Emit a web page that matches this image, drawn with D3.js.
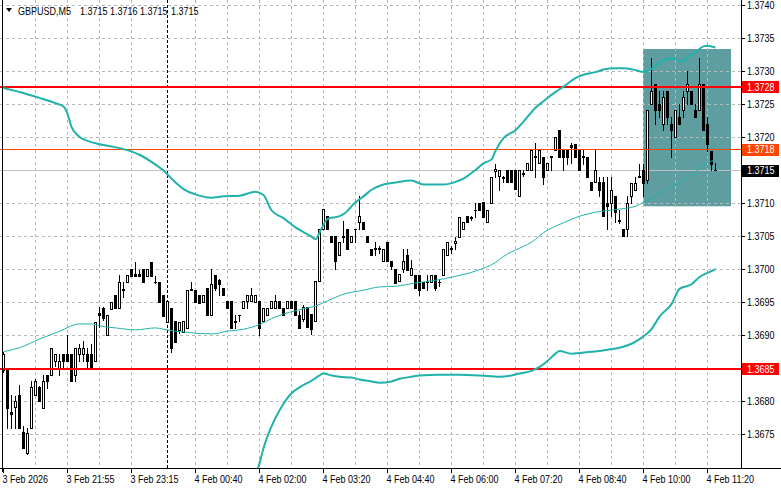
<!DOCTYPE html>
<html><head><meta charset="utf-8">
<script src="https://cdn.jsdelivr.net/npm/d3@7"></script>
<style>
body{margin:0;background:#fff}
svg{display:block}
text{font-family:"Liberation Sans",Arial,sans-serif}
</style>
</head><body>
<svg id="c" width="781" height="489"></svg>
<script>
// ---------- DATA ----------
const symbolTitle = "GBPUSD,M5";
const headerValues = ["1.3715", "1.3716", "1.3715", "1.3715"];

const opens = [
1.36848,1.36848,1.36783,1.36791,1.36810,1.36753,1.36721,1.36760,1.36810,1.36821,
1.36790,1.36840,1.36840,1.36861,1.36850,1.36871,1.36871,1.36871,1.36840,1.36871,
1.36871,1.36871,1.36871,1.36861,1.36933,1.36941,1.36901,1.36939,1.36961,1.36941,
1.36970,1.36980,1.37000,1.36992,1.36992,1.37000,1.36990,1.37010,1.36981,1.36980,
1.36961,1.36920,1.36941,1.36921,1.36908,1.36905,1.36911,1.36970,1.36969,1.36961,
1.36950,1.36971,1.36930,1.36991,1.36983,1.36971,1.36951,1.36951,1.36922,1.36931,
1.36941,1.36951,1.36951,1.36950,1.36951,1.36921,1.36931,1.36941,1.36941,1.36951,
1.36941,1.36941,1.36951,1.36951,1.36931,1.36925,1.36942,1.36932,1.36922,1.36982,
1.37061,1.37081,1.37050,1.37050,1.37022,1.37048,1.37061,1.37041,1.37060,1.37071,
1.37071,1.37050,1.37031,1.37032,1.37032,1.37012,1.37041,1.37012,1.37000,1.36982,
1.37000,1.37021,1.36991,1.36991,1.36991,1.36981,1.36982,1.36981,1.36991,1.36980,
1.36991,1.37021,1.37032,1.37040,1.37048,1.37061,1.37080,1.37078,1.37089,1.37100,
1.37101,1.37071,1.37100,1.37148,1.37141,1.37138,1.37150,1.37150,1.37150,1.37110,
1.37145,1.37150,1.37150,1.37171,1.37160,1.37170,1.37150,1.37171,1.37180,1.37210,
1.37180,1.37180,1.37187,1.37189,1.37180,1.37171,1.37170,1.37131,1.37131,1.37131,
1.37131,1.37100,1.37100,1.37110,1.37074,1.37060,1.37060,1.37110,1.37120,1.37141,
1.37150,1.37135,1.37250,1.37280,1.37250,1.37220,1.37270,1.37220,1.37200,1.37230,
1.37240,1.37270,1.37270,1.37240,1.37240,1.37280,1.37220,1.37179,1.37150];

const highs = [
1.36875,1.36850,1.36810,1.36808,1.36825,1.36763,1.36760,1.36830,1.36833,1.36823,
1.36840,1.36840,1.36881,1.36871,1.36871,1.36871,1.36901,1.36871,1.36881,1.36886,
1.36891,1.36881,1.36886,1.36920,1.36943,1.36943,1.36931,1.36950,1.36961,1.36991,
1.36980,1.36991,1.37000,1.37011,1.36998,1.37000,1.37000,1.37010,1.36990,1.36980,
1.36961,1.36951,1.36941,1.36921,1.36920,1.36921,1.36969,1.36980,1.36969,1.36961,
1.36961,1.36971,1.37000,1.36991,1.36985,1.36971,1.36951,1.36951,1.36931,1.36931,
1.36951,1.36961,1.36971,1.36961,1.36951,1.36941,1.36941,1.36951,1.36961,1.36951,
1.36941,1.36951,1.36951,1.36951,1.36937,1.36945,1.36942,1.36932,1.36982,1.37061,
1.37091,1.37081,1.37050,1.37050,1.37041,1.37072,1.37061,1.37050,1.37061,1.37110,
1.37071,1.37050,1.37031,1.37041,1.37035,1.37031,1.37041,1.37012,1.37000,1.36992,
1.37030,1.37031,1.37013,1.36991,1.36991,1.36981,1.36991,1.36991,1.36991,1.36985,
1.37031,1.37041,1.37035,1.37048,1.37079,1.37071,1.37080,1.37080,1.37100,1.37100,
1.37101,1.37090,1.37139,1.37159,1.37150,1.37141,1.37150,1.37150,1.37150,1.37150,
1.37150,1.37160,1.37180,1.37190,1.37180,1.37170,1.37160,1.37171,1.37200,1.37210,
1.37180,1.37180,1.37190,1.37189,1.37180,1.37180,1.37170,1.37131,1.37180,1.37139,
1.37139,1.37139,1.37139,1.37110,1.37089,1.37060,1.37110,1.37130,1.37140,1.37159,
1.37159,1.37240,1.37320,1.37280,1.37270,1.37270,1.37270,1.37230,1.37240,1.37250,
1.37270,1.37300,1.37270,1.37250,1.37320,1.37280,1.37230,1.37179,1.37160];

const lows = [
1.36845,1.36760,1.36760,1.36760,1.36760,1.36730,1.36720,1.36760,1.36810,1.36800,
1.36790,1.36820,1.36840,1.36853,1.36840,1.36850,1.36861,1.36830,1.36830,1.36861,
1.36861,1.36850,1.36850,1.36861,1.36913,1.36923,1.36901,1.36939,1.36941,1.36941,
1.36958,1.36980,1.36990,1.36990,1.36990,1.36980,1.36990,1.36990,1.36979,1.36950,
1.36929,1.36920,1.36875,1.36889,1.36903,1.36905,1.36911,1.36968,1.36950,1.36949,
1.36950,1.36930,1.36930,1.36968,1.36961,1.36961,1.36941,1.36911,1.36911,1.36921,
1.36941,1.36941,1.36951,1.36950,1.36901,1.36921,1.36931,1.36941,1.36941,1.36941,
1.36931,1.36941,1.36941,1.36931,1.36911,1.36921,1.36912,1.36902,1.36922,1.36982,
1.37061,1.37061,1.37041,1.37000,1.37022,1.37041,1.37031,1.37041,1.37041,1.37061,
1.37061,1.37041,1.37022,1.37022,1.37025,1.37012,1.37012,1.37000,1.36979,1.36982,
1.36996,1.36998,1.36991,1.36971,1.36961,1.36971,1.36968,1.36981,1.36968,1.36975,
1.36991,1.37021,1.37025,1.37031,1.37048,1.37061,1.37071,1.37075,1.37079,1.37089,
1.37079,1.37071,1.37100,1.37139,1.37120,1.37131,1.37131,1.37131,1.37121,1.37110,
1.37141,1.37150,1.37150,1.37139,1.37160,1.37129,1.37150,1.37150,1.37180,1.37170,
1.37150,1.37159,1.37160,1.37170,1.37150,1.37159,1.37139,1.37120,1.37131,1.37111,
1.37080,1.37061,1.37080,1.37071,1.37069,1.37050,1.37050,1.37100,1.37120,1.37140,
1.37110,1.37130,1.37250,1.37220,1.37230,1.37210,1.37220,1.37169,1.37200,1.37220,
1.37230,1.37250,1.37250,1.37230,1.37240,1.37210,1.37179,1.37150,1.37150];

const closes = [
1.36871,1.36790,1.36781,1.36801,1.36760,1.36730,1.36752,1.36822,1.36830,1.36800,
1.36831,1.36830,1.36881,1.36871,1.36861,1.36861,1.36861,1.36830,1.36881,1.36881,
1.36881,1.36861,1.36850,1.36920,1.36930,1.36926,1.36931,1.36950,1.36941,1.36980,
1.36968,1.36991,1.36990,1.36990,1.36990,1.36980,1.37000,1.36990,1.36980,1.36950,
1.36929,1.36951,1.36880,1.36889,1.36920,1.36921,1.36969,1.36968,1.36950,1.36949,
1.36961,1.36930,1.36978,1.36971,1.36978,1.36961,1.36941,1.36911,1.36920,1.36930,
1.36951,1.36961,1.36961,1.36961,1.36911,1.36941,1.36941,1.36951,1.36951,1.36941,
1.36931,1.36951,1.36941,1.36931,1.36911,1.36942,1.36912,1.36909,1.36982,1.37061,
1.37091,1.37061,1.37041,1.37012,1.37041,1.37050,1.37031,1.37050,1.37061,1.37081,
1.37061,1.37041,1.37022,1.37030,1.37030,1.37031,1.37012,1.37004,1.36979,1.36992,
1.37012,1.36998,1.37001,1.36971,1.36968,1.36971,1.36980,1.36991,1.36971,1.36981,
1.37031,1.37041,1.37030,1.37042,1.37079,1.37071,1.37071,1.37079,1.37090,1.37089,
1.37079,1.37090,1.37139,1.37151,1.37150,1.37139,1.37131,1.37131,1.37121,1.37150,
1.37144,1.37160,1.37180,1.37169,1.37180,1.37139,1.37160,1.37169,1.37200,1.37170,
1.37170,1.37169,1.37185,1.37170,1.37150,1.37169,1.37139,1.37120,1.37150,1.37120,
1.37080,1.37095,1.37120,1.37086,1.37072,1.37050,1.37100,1.37130,1.37130,1.37140,
1.37130,1.37240,1.37270,1.37240,1.37240,1.37260,1.37230,1.37210,1.37240,1.37220,
1.37260,1.37280,1.37250,1.37230,1.37280,1.37210,1.37189,1.37159,1.37150];

// Bollinger bands, read at sampled bars: [bar index, price]
const upperBand = [[0,1.37274],[2,1.37271],[4,1.37268],[9,1.37259],[13,1.37251],[15,1.37246],[16,1.37235],
[17,1.37215],[19,1.37200],[21,1.37194],[24,1.37189],[29,1.37183],[34,1.37173],[38,1.37158],[40,1.37149],
[43,1.37131],[45,1.37121],[48,1.37113],[52,1.37108],[55,1.37110],[59,1.37111],[63,1.37117],[65,1.37112],
[67,1.37089],[70,1.37077],[73,1.37063],[75,1.37056],[77,1.37049],[78,1.37045],[79,1.37055],[81,1.37076],
[84,1.37080],[85,1.37083],[88,1.37101],[90,1.37110],[92,1.37120],[95,1.37128],[98,1.37131],[102,1.37134],
[105,1.37128],[110,1.37128],[113,1.37132],[115,1.37137],[118,1.37150],[120,1.37160],[122,1.37166],
[123,1.37179],[125,1.37198],[128,1.37210],[130,1.37223],[133,1.37244],[135,1.37254],[138,1.37268],
[140,1.37276],[143,1.37289],[145,1.37294],[148,1.37298],[150,1.37302],[153,1.37304],[155,1.37304],
[158,1.37301],[160,1.37298],[162,1.37303],[165,1.37316],[167,1.37319],[170,1.37314],[171,1.37320],
[173,1.37328],[175,1.37337],[176,1.37338],[178,1.37335]];

const middleBand = [[0,1.36875],[4,1.36881],[9,1.36894],[14,1.36906],[19,1.36917],[22,1.36917],[24,1.36914],
[28,1.36911],[33,1.36908],[38,1.36911],[40,1.36909],[43,1.36906],[45,1.36905],[48,1.36903],[53,1.36902],
[55,1.36905],[60,1.36909],[64,1.36916],[67,1.36925],[70,1.36932],[73,1.36937],[75,1.36940],[78,1.36944],
[81,1.36952],[85,1.36962],[90,1.36968],[94,1.36973],[98,1.36974],[103,1.36979],[108,1.36983],[113,1.36989],
[118,1.36997],[123,1.37010],[125,1.37019],[133,1.37045],[135,1.37055],[140,1.37070],[144,1.37080],
[148,1.37086],[153,1.37090],[158,1.37095],[160,1.37101],[165,1.37117],[169,1.37131],[173,1.37147],
[176,1.37161],[178,1.37165]];

const lowerBand = [[61,1.36660],[64,1.36706],[65,1.36729],[67,1.36762],[69,1.36786],[72,1.36812],[74,1.36821],
[77,1.36831],[79,1.36839],[80,1.36842],[82,1.36839],[84,1.36837],[87,1.36836],[89,1.36833],[92,1.36830],
[94,1.36828],[97,1.36830],[99,1.36834],[102,1.36837],[104,1.36839],[109,1.36840],[114,1.36840],[119,1.36839],
[124,1.36837],[127,1.36839],[129,1.36842],[132,1.36846],[134,1.36852],[136,1.36861],[138,1.36872],
[139,1.36876],[142,1.36872],[147,1.36875],[149,1.36876],[152,1.36879],[154,1.36881],[157,1.36887],
[159,1.36894],[162,1.36909],[164,1.36928],[167,1.36947],[169,1.36970],[172,1.36977],[174,1.36988],
[177,1.36997],[178,1.37000]];

const priceTicks = [1.3740,1.3735,1.3730,1.3725,1.3720,1.3710,1.3705,1.3700,1.3695,1.3690,1.3680,1.3675];
const gridPrices = [1.3740,1.3735,1.3730,1.3725,1.3720,1.3715,1.3710,1.3705,1.3700,1.3695,1.3690,1.3685,1.3680,1.3675];
const timeLabelBars = [0,16,32,48,64,80,96,112,128,144,160,176];
const timeLabels = ["3 Feb 2026","3 Feb 21:55","3 Feb 23:15","4 Feb 00:40","4 Feb 02:00","4 Feb 03:20",
                    "4 Feb 04:40","4 Feb 06:00","4 Feb 07:20","4 Feb 08:40","4 Feb 10:00","4 Feb 11:20"];
const gridBars = [8,16,24,32,48,56,64,72,80,88,96,104,112,120,128,136,144,152,160,168,176];
const separatorBar = 41;

const redLevels = [1.37277, 1.36850];
const orangeLevel = 1.37181;
const bidLevel = 1.3715;
const zoneBars = [160, 182];
const zonePrices = [1.37333, 1.37095];

// ---------- DRAW ----------
const NARROW = 0.82; // horizontal squeeze to mimic the terminal's narrow font
const svg = d3.select("#c");
const plotR = 741, plotB = 468;
const x = d3.scaleLinear().domain([0, 178]).range([3, 715]);
const y = d3.scaleLinear().domain([1.3740, 1.3675]).range([4.7, 434.3]);
const px = i => Math.round(x(i));
const py = v => Math.round(y(v));

function narrowText(parent, tx, ty, str, size, fill) {
  return parent.append("text")
    .attr("transform", `translate(${tx},${ty}) scale(${NARROW},1)`)
    .attr("font-size", size).attr("fill", fill).text(str);
}

svg.append("rect").attr("width", 781).attr("height", 489).attr("fill", "#fff");
svg.append("defs").append("clipPath").attr("id", "clip")
  .append("rect").attr("x", 0).attr("y", 0).attr("width", plotR).attr("height", plotB);

const plot = svg.append("g").attr("clip-path", "url(#clip)");

// zone rectangle
plot.append("rect")
  .attr("x", x(zoneBars[0])).attr("y", y(zonePrices[0]))
  .attr("width", x(zoneBars[1]) - x(zoneBars[0]))
  .attr("height", y(zonePrices[1]) - y(zonePrices[0]))
  .attr("fill", "#5f9ea0");

// grid
const grid = plot.append("g").attr("shape-rendering", "crispEdges");
grid.selectAll("line.h").data(gridPrices).join("line").attr("class", "h")
  .attr("x1", 0).attr("x2", plotR)
  .attr("y1", d => py(d) + 0.5).attr("y2", d => py(d) + 0.5)
  .attr("stroke", "#b8b8b8").attr("stroke-dasharray", "3,3");
grid.selectAll("line.v").data(gridBars).join("line").attr("class", "v")
  .attr("x1", d => px(d) + 0.5).attr("x2", d => px(d) + 0.5)
  .attr("y1", 0).attr("y2", plotB)
  .attr("stroke", "#b8b8b8").attr("stroke-dasharray", "3,3");

// period separator
plot.append("line")
  .attr("x1", px(separatorBar) + 0.5).attr("x2", px(separatorBar) + 0.5)
  .attr("y1", 0).attr("y2", plotB)
  .attr("stroke", "#000").attr("stroke-dasharray", "3,2").attr("shape-rendering", "crispEdges");

// bid line
plot.append("line").attr("x1", 0).attr("x2", plotR)
  .attr("y1", py(bidLevel) + 0.5).attr("y2", py(bidLevel) + 0.5)
  .attr("stroke", "#c0c0c0").attr("shape-rendering", "crispEdges");

// candles
const bars = d3.range(opens.length).map(i => ({i, o: opens[i], h: highs[i], l: lows[i], c: closes[i]}));
const cg = plot.append("g").attr("shape-rendering", "crispEdges");
cg.selectAll("line.wick").data(bars).join("line").attr("class", "wick")
  .attr("x1", d => px(d.i) + 0.5).attr("x2", d => px(d.i) + 0.5)
  .attr("y1", d => py(d.h)).attr("y2", d => py(d.l) + 1)
  .attr("stroke", "#000");
bars.forEach(d => {
  const top = py(Math.max(d.o, d.c)), bot = py(Math.min(d.o, d.c));
  const cx = px(d.i);
  if (bot - top < 1) {
    cg.append("line").attr("x1", cx - 1).attr("x2", cx + 2)
      .attr("y1", top + 0.5).attr("y2", top + 0.5).attr("stroke", "#000");
  } else {
    cg.append("rect").attr("x", cx - 0.5).attr("y", top + 0.5)
      .attr("width", 2).attr("height", bot - top)
      .attr("fill", d.c >= d.o ? "#fff" : "#000").attr("stroke", "#000");
  }
});

// levels (on top)
plot.append("line").attr("x1", 0).attr("x2", plotR)
  .attr("y1", py(orangeLevel) + 0.5).attr("y2", py(orangeLevel) + 0.5)
  .attr("stroke", "#ff4500").attr("shape-rendering", "crispEdges");
plot.selectAll("line.red").data(redLevels).join("line").attr("class", "red")
  .attr("x1", 0).attr("x2", plotR)
  .attr("y1", d => py(d) + 1).attr("y2", d => py(d) + 1)
  .attr("stroke", "#ff0000").attr("stroke-width", 2).attr("shape-rendering", "crispEdges");

// bands
const bandLine = d3.line().x(d => x(d[0]) + 0.5).y(d => y(d[1])).curve(d3.curveMonotoneX);
plot.append("path").attr("d", bandLine(upperBand)).attr("fill", "none").attr("stroke", "#20b2aa").attr("stroke-width", 2);
plot.append("path").attr("d", bandLine(lowerBand)).attr("fill", "none").attr("stroke", "#20b2aa").attr("stroke-width", 2);
plot.append("path").attr("d", bandLine(middleBand)).attr("fill", "none").attr("stroke", "#20b2aa").attr("stroke-width", 1);

// frame
const frame = svg.append("g").attr("shape-rendering", "crispEdges").attr("stroke", "#000");
frame.append("line").attr("x1", 2.5).attr("x2", 2.5).attr("y1", 0).attr("y2", plotB + 4);
frame.append("line").attr("x1", plotR + 0.5).attr("x2", plotR + 0.5).attr("y1", 0).attr("y2", plotB + 1);
frame.append("line").attr("x1", 0).attr("x2", 781).attr("y1", plotB + 0.5).attr("y2", plotB + 0.5);

// price axis
const yAxis = d3.axisRight(y).tickValues(priceTicks).tickFormat(d3.format(".4f"))
  .tickSize(3).tickPadding(3).tickSizeOuter(0);
const ya = svg.append("g").attr("transform", `translate(${plotR + 1},0)`).call(yAxis);
ya.select(".domain").remove();
ya.selectAll(".tick").attr("transform", d => `translate(0,${py(d) + 0.5})`);
ya.selectAll(".tick line").attr("stroke", "#000").attr("shape-rendering", "crispEdges");
ya.selectAll(".tick text")
  .attr("x", 0).attr("dy", "0.36em")
  .attr("transform", `translate(5,0) scale(${NARROW},1)`)
  .attr("font-size", 11).attr("fill", "#000")
  .style("font-family", "'Liberation Sans',Arial,sans-serif");

// price label boxes
const boxes = [
  {v: redLevels[0], bg: "#ff0000", off: 1},
  {v: orangeLevel, bg: "#ff4500", off: 0.5},
  {v: bidLevel, bg: "#000000", off: 0.5},
  {v: redLevels[1], bg: "#ff0000", off: 1}
];
const bgp = svg.append("g");
boxes.forEach(b => {
  const yy = py(b.v) + b.off;
  bgp.append("rect").attr("x", plotR + 1).attr("y", Math.round(yy - 6)).attr("width", 37).attr("height", 12)
    .attr("fill", b.bg);
  narrowText(bgp, plotR + 6, yy, d3.format(".4f")(b.v), 11, "#fff").attr("dy", "0.36em");
});

// time axis
const xAxis = d3.axisBottom(x).tickValues(timeLabelBars)
  .tickFormat((d, k) => timeLabels[k]).tickSize(4).tickPadding(2).tickSizeOuter(0);
const xa = svg.append("g").attr("transform", `translate(0,${plotB + 1})`).call(xAxis);
xa.select(".domain").remove();
xa.selectAll(".tick").attr("transform", d => `translate(${px(d) + 0.5},0)`);
xa.selectAll(".tick line").attr("stroke", "#000").attr("shape-rendering", "crispEdges");
xa.selectAll(".tick text")
  .attr("text-anchor", "start").attr("x", 0).attr("y", 0).attr("dy", "0.71em")
  .attr("transform", `translate(-1,6) scale(${NARROW},1)`)
  .attr("font-size", 11).attr("fill", "#000")
  .style("font-family", "'Liberation Sans',Arial,sans-serif");

// title
svg.append("path").attr("d", "M6,8 L12,8 L9,12 Z").attr("fill", "#000");
narrowText(svg, 18, 15, symbolTitle, 11, "#000");
const valueX = [80, 110, 140, 171];
headerValues.forEach((v, k) => narrowText(svg, valueX[k], 15, v, 11, "#000"));
</script>
</body></html>
